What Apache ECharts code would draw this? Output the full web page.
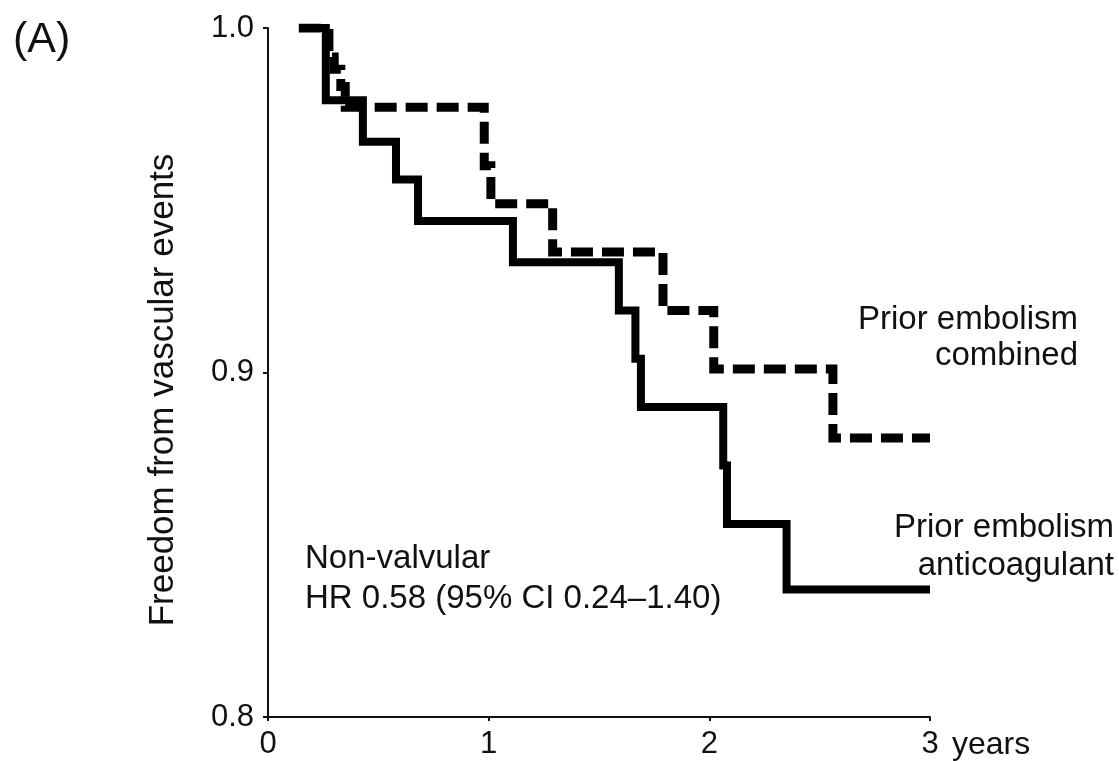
<!DOCTYPE html>
<html>
<head>
<meta charset="utf-8">
<script src="https://cdn.jsdelivr.net/npm/echarts@6/dist/echarts.min.js"></script>
<style>
  html, body { margin: 0; padding: 0; background: #fff; }
  #chart { width: 1119px; height: 761px; }
</style>
</head>
<body>
<div id="chart"></div>
<script>
// Kaplan-Meier style survival steps: [years, freedom from vascular events]
const anticoagulantTimes  = [0.14, 0.262, 0.43, 0.58, 0.68, 1.11, 1.59, 1.665, 1.69, 2.063, 2.08, 2.35, 3.0];
const anticoagulantValues = [1.0, 0.979, 0.967, 0.956, 0.944, 0.932, 0.918, 0.904, 0.890, 0.873, 0.856, 0.837, 0.837];

const combinedTimes  = [0.14, 0.276, 0.30, 0.33, 0.35, 0.98, 1.01, 1.29, 1.79, 2.02, 2.56, 3.0];
const combinedValues = [1.0, 0.9916, 0.988, 0.983, 0.977, 0.960, 0.949, 0.935, 0.918, 0.901, 0.881, 0.881];

const xTicks = [0, 1, 2, 3];
const yTicks = [0.8, 0.9, 1.0];

const FONT = '"Liberation Sans", Arial, Helvetica, sans-serif';
const INK = '#111';

const pairs = (ts, vs) => ts.map((t, i) => [t, vs[i]]);

const chart = echarts.init(document.getElementById('chart'), null, { renderer: 'canvas' });

// right-aligned two-line annotation block
const rightText = (x, y, lines, lh) => ({
  type: 'text', x: x, y: y,
  style: {
    text: lines.join('\n'),
    font: '33px ' + FONT, fill: INK, lineHeight: lh,
    align: 'right', textAlign: 'right', verticalAlign: 'top'
  }
});

chart.setOption({
  backgroundColor: '#fff',
  animation: false,
  title: {
    text: '(A)',
    left: 8, top: 14,
    textStyle: { fontFamily: FONT, fontSize: 43, fontWeight: 'normal', color: INK }
  },
  grid: { left: 268, right: 189, top: 28, bottom: 41, containLabel: false },
  xAxis: {
    type: 'value',
    min: xTicks[0], max: xTicks[xTicks.length - 1], interval: 1,
    name: 'years',
    nameLocation: 'end',
    nameGap: 22,
    nameTextStyle: { fontFamily: FONT, fontSize: 32, color: INK, verticalAlign: 'top', padding: [12, 0, 0, 0] },
    axisLine: { show: true, onZero: false, lineStyle: { color: INK, width: 2 } },
    axisTick: { show: true, length: 4, lineStyle: { color: INK, width: 2 } },
    axisLabel: { fontFamily: FONT, fontSize: 31, color: INK, margin: 12, formatter: v => String(v) },
    splitLine: { show: false }
  },
  yAxis: {
    type: 'value',
    min: yTicks[0], max: yTicks[yTicks.length - 1], interval: 0.1,
    axisLine: { show: true, onZero: false, lineStyle: { color: INK, width: 2 } },
    axisTick: { show: true, length: 5, lineStyle: { color: INK, width: 2 } },
    axisLabel: { fontFamily: FONT, fontSize: 31, color: INK, margin: 14, formatter: v => v.toFixed(1) },
    splitLine: { show: false }
  },
  graphic: [
    {
      // vertical axis title
      type: 'text', x: 163, y: 390, rotation: Math.PI / 2,
      style: {
        text: 'Freedom from vascular events',
        font: '35px ' + FONT, fill: INK,
        align: 'center', textAlign: 'center', verticalAlign: 'middle'
      }
    },
    {
      type: 'text', x: 305, y: 539,
      style: {
        text: 'Non-valvular\nHR 0.58 (95% CI 0.24\u20131.40)',
        font: '33px ' + FONT, fill: INK, lineHeight: 40, verticalAlign: 'top'
      }
    },
    rightText(1078, 302, ['Prior embolism', 'combined'], 36),
    rightText(1114, 509, ['Prior embolism', 'anticoagulant'], 38)
  ],
  series: [
    {
      name: 'Prior embolism anticoagulant',
      type: 'line',
      step: 'end',
      symbol: 'none',
      data: pairs(anticoagulantTimes, anticoagulantValues),
      lineStyle: { color: '#000', width: 8, type: 'solid', cap: 'butt', join: 'miter' },
      z: 3
    },
    {
      name: 'Prior embolism combined',
      type: 'line',
      step: 'end',
      symbol: 'none',
      data: pairs(combinedTimes, combinedValues),
      lineStyle: { color: '#000', width: 9, type: [22, 9], cap: 'butt', join: 'miter' },
      z: 4
    }
  ]
});
</script>
</body>
</html>
